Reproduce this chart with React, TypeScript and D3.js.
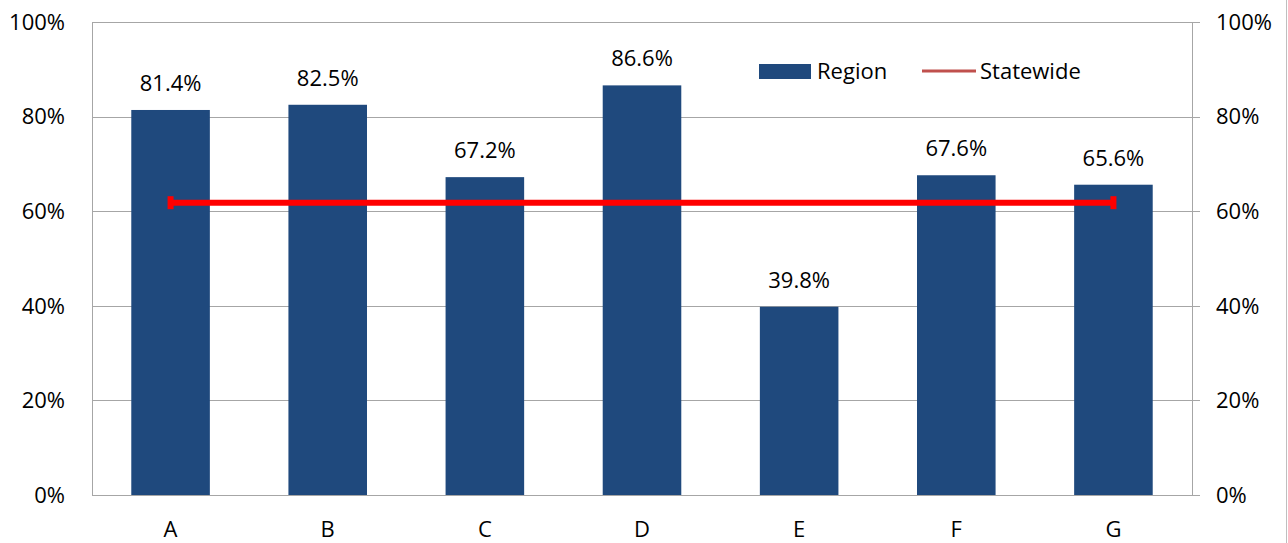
import React, { useEffect, useRef } from "react";
import * as d3 from "d3";

const categories = ["A", "B", "C", "D", "E", "F", "G"];
const regionValues = [81.4, 82.5, 67.2, 86.6, 39.8, 67.6, 65.6];
const statewideValues = [61.8, 61.8, 61.8, 61.8, 61.8, 61.8, 61.8];
const yTicks = [0, 20, 40, 60, 80, 100];

const W = 1288;
const H = 543;
const FONT = "'Open Sans', Lato, sans-serif";
const FS = 22;

export default function App() {
  const ref = useRef<SVGSVGElement>(null);

  useEffect(() => {
    const svg = d3.select(ref.current);
    svg.selectAll("*").remove();

    const left = 92, right = 1192, top = 22, bottom = 495;
    const x = d3.scaleBand().domain(categories).range([left, right]).paddingInner(0.5).paddingOuter(0.25);
    const xc = d3.scaleBand().domain(categories).range([left, right]);
    const y = d3.scaleLinear().domain([0, 100]).range([bottom, top]);
    const grid = "#a6a6a6";

    // right chart border
    svg.append("line").attr("x1", W - 1.5).attr("x2", W - 1.5).attr("y1", 0).attr("y2", H)
      .attr("stroke", "#bfbfbf").attr("stroke-width", 1);

    // gridlines
    svg.append("g").selectAll("line").data(yTicks).join("line")
      .attr("x1", left).attr("x2", right + 8)
      .attr("y1", d => Math.round(y(d)) + 0.5).attr("y2", d => Math.round(y(d)) + 0.5)
      .attr("stroke", grid).attr("stroke-width", 1);

    // axes lines
    svg.append("line").attr("x1", left + 0.5).attr("x2", left + 0.5).attr("y1", top).attr("y2", bottom + 0.5)
      .attr("stroke", grid);
    svg.append("line").attr("x1", right + 0.5).attr("x2", right + 0.5).attr("y1", top).attr("y2", bottom + 0.5)
      .attr("stroke", grid);

    // bars
    svg.append("g").selectAll("rect").data(regionValues).join("rect")
      .attr("x", (_, i) => x(categories[i])!)
      .attr("width", x.bandwidth())
      .attr("y", d => y(d))
      .attr("height", d => bottom - y(d))
      .attr("fill", "#1F497D");

    // value labels
    svg.append("g").selectAll("text").data(regionValues).join("text")
      .attr("x", (_, i) => x(categories[i])! + x.bandwidth() / 2)
      .attr("y", d => y(d) - 19)
      .attr("text-anchor", "middle")
      .attr("font-family", FONT).attr("font-size", FS).attr("fill", "#000")
      .text(d => d.toFixed(1) + "%");

    // statewide line
    const cx = (i: number) => xc(categories[i])! + xc.bandwidth() / 2;
    const line = d3.line<number>().x((_, i) => cx(i)).y(d => y(d));
    svg.append("path").datum(statewideValues).attr("d", line)
      .attr("fill", "none").attr("stroke", "#FF0000").attr("stroke-width", 6);
    [0, statewideValues.length - 1].forEach(i => {
      svg.append("rect").attr("x", cx(i) - 3).attr("y", y(statewideValues[i]) - 6.5)
        .attr("width", 6).attr("height", 13).attr("fill", "#FF0000");
    });

    // left axis labels
    svg.append("g").selectAll("text").data(yTicks).join("text")
      .attr("x", 65).attr("y", d => y(d)).attr("dy", "0.35em")
      .attr("text-anchor", "end")
      .attr("font-family", FONT).attr("font-size", FS).attr("fill", "#000")
      .text(d => d + "%");
    // right axis labels
    svg.append("g").selectAll("text").data(yTicks).join("text")
      .attr("x", 1216).attr("y", d => y(d)).attr("dy", "0.35em")
      .attr("text-anchor", "start")
      .attr("font-family", FONT).attr("font-size", FS).attr("fill", "#000")
      .text(d => d + "%");

    // category labels
    svg.append("g").selectAll("text").data(categories).join("text")
      .attr("x", d => xc(d)! + xc.bandwidth() / 2).attr("y", 537)
      .attr("text-anchor", "middle")
      .attr("font-family", FONT).attr("font-size", FS).attr("fill", "#000")
      .text(d => d);

    // legend
    const lg = svg.append("g");
    lg.append("rect").attr("x", 759).attr("y", 64).attr("width", 52).attr("height", 15).attr("fill", "#1F497D");
    lg.append("text").attr("x", 817).attr("y", 71).attr("dy", "0.35em")
      .attr("font-family", FONT).attr("font-size", FS).attr("fill", "#000").text("Region");
    lg.append("line").attr("x1", 922).attr("x2", 976).attr("y1", 71).attr("y2", 71)
      .attr("stroke", "#C0504D").attr("stroke-width", 3);
    lg.append("text").attr("x", 980).attr("y", 71).attr("dy", "0.35em")
      .attr("font-family", FONT).attr("font-size", FS).attr("fill", "#000").text("Statewide");
  }, []);

  return (
    <svg ref={ref} width={W} height={H}
      style={{ position: "absolute", left: 0, top: 0, background: "#fff" }} />
  );
}
